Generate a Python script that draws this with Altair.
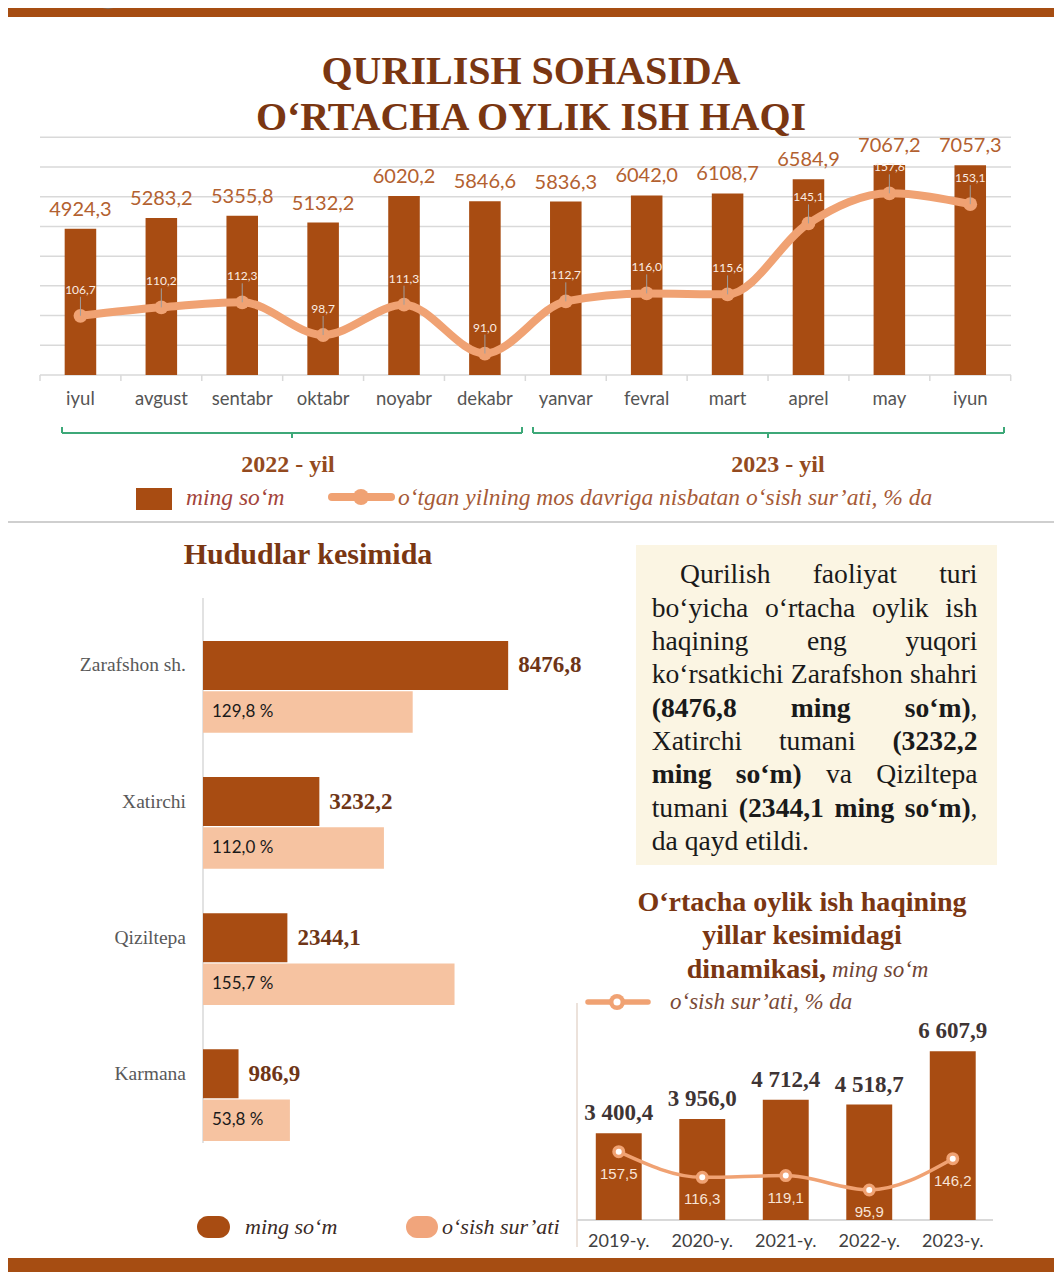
import altair as alt
import pandas as pd

# ---------------- data ----------------
months = ["iyul", "avgust", "sentabr", "oktabr", "noyabr", "dekabr",
          "yanvar", "fevral", "mart", "aprel", "may", "iyun"]
salary = [4924.3, 5283.2, 5355.8, 5132.2, 6020.2, 5846.6,
          5836.3, 6042.0, 6108.7, 6584.9, 7067.2, 7057.3]
growth = [106.7, 110.2, 112.3, 98.7, 111.3, 91.0,
          112.7, 116.0, 115.6, 145.1, 157.6, 153.1]
grid_vals = [0, 1000, 2000, 3000, 4000, 5000, 6000, 7000, 8000]

regions = ["Zarafshon sh.", "Xatirchi", "Qiziltepa", "Karmana"]
region_salary = [8476.8, 3232.2, 2344.1, 986.9]
region_growth = [129.8, 112.0, 155.7, 53.8]

years = ["2019-y.", "2020-y.", "2021-y.", "2022-y.", "2023-y."]
year_salary = [3400.4, 3956.0, 4712.4, 4518.7, 6607.9]
year_growth = [157.5, 116.3, 119.1, 95.9, 146.2]

# ---------------- styles ----------------
BAND = "#A64D12"
BROWN = "#A84C12"
PEACH = "#F0A273"
LIGHT = "#F6C3A1"
TITLE = "#7A3612"
GRID = "#D9D9D9"
SERIF = "Liberation Serif"
SANS = "Lato"
OFF = 8


def X(p):
    return p - OFF


def Y(p):
    return p - OFF


def fmt(v):
    return f"{v:.1f}".replace(".", ",")


def fmt_sp(v):
    return f"{v:,.1f}".replace(",", " ").replace(".", ",")


ONE = pd.DataFrame({"a": [0]})
layers = []


def box(x1, y1, x2, y2, color, radius=0):
    layers.append(alt.Chart(ONE).mark_rect(color=color, cornerRadius=radius).encode(
        x=alt.value(X(x1)), x2=alt.value(X(x2)), y=alt.value(Y(y1)), y2=alt.value(Y(y2))))


def seg(x1, y1, x2, y2, color, w=1.5, cap="butt"):
    layers.append(alt.Chart(ONE).mark_rule(color=color, strokeWidth=w, strokeCap=cap).encode(
        x=alt.value(X(x1)), x2=alt.value(X(x2)), y=alt.value(Y(y1)), y2=alt.value(Y(y2))))


def dot(x, y, r, fill, stroke=None, sw=0):
    kw = dict(fill=fill, opacity=1, size=3.1416 * r * r, filled=True)
    if stroke:
        kw.update(stroke=stroke, strokeWidth=sw)
    layers.append(alt.Chart(ONE).mark_circle(**kw).encode(x=alt.value(X(x)), y=alt.value(Y(y))))


def txt(s, x, y, size, color, font=SERIF, weight="normal", style="normal",
        align="center", baseline="middle"):
    layers.append(alt.Chart(pd.DataFrame({"t": [s]})).mark_text(
        font=font, fontSize=size, color=color, fontWeight=weight, fontStyle=style,
        align=align, baseline=baseline).encode(
        x=alt.value(X(x)), y=alt.value(Y(y)), text="t:N"))


# ---------------- frame ----------------
box(0, 0, 1062, 17, BAND)
dot(108, -26, 38, "#EEF3F5", "#5A8FB0", 1.5)
box(0, 1258, 1062, 1290, BAND)

txt("QURILISH SOHASIDA", 531, 84, 40, TITLE, weight="bold", baseline="alphabetic")
txt("O‘RTACHA OYLIK ISH HAQI", 531, 130, 40, TITLE, weight="bold", baseline="alphabetic")

# ---------------- top chart ----------------
n = len(months)
step = (1010.7 - 40) / n
xs_top = alt.Scale(type="band", domain=months, range=[X(40), X(1010.7)],
                   paddingInner=0.61, paddingOuter=0.305)
ys_top = alt.Scale(domain=[0, 8000], range=[Y(375), Y(137.3)], nice=False, zero=False)
yg_top = alt.Scale(domain=[80, 170], range=[Y(380), Y(163.5)], nice=False, zero=False)

layers.append(alt.Chart(pd.DataFrame({"v": grid_vals})).mark_rule(color=GRID, strokeWidth=1.5).encode(
    y=alt.Y("v:Q", scale=ys_top, axis=None), x=alt.value(X(40)), x2=alt.value(X(1011))))

df_top = pd.DataFrame({"m": months, "s": salary, "g": growth, "i": list(range(n)),
                       "sl": [fmt(v) for v in salary], "gl": [fmt(v) for v in growth]})
base_top = alt.Chart(df_top)
xt = alt.X("m:N", scale=xs_top, axis=None, sort=months)

layers.append(base_top.mark_rule(color=GRID, strokeWidth=1.5, xOffset=-step / 2).encode(
    x=xt, y=alt.value(Y(375)), y2=alt.value(Y(381))))
layers.append(base_top.transform_filter(alt.datum.m == months[-1]).mark_rule(
    color=GRID, strokeWidth=1.5, xOffset=step / 2).encode(
    x=xt, y=alt.value(Y(375)), y2=alt.value(Y(381))))

layers.append(base_top.mark_bar(color=BROWN).encode(x=xt, y=alt.Y("s:Q", scale=ys_top, axis=None)))
layers.append(base_top.mark_text(dy=-19, font=SANS, fontSize=20, color="#B36130").encode(
    x=xt, y=alt.Y("s:Q", scale=ys_top, axis=None), text="sl:N"))

yg = alt.Y("g:Q", scale=yg_top, axis=None)
layers.append(base_top.mark_line(color=PEACH, strokeWidth=8, interpolate="monotone",
                                 strokeCap="round").encode(x=xt, y=yg, order=alt.Order("i:Q")))
layers.append(base_top.mark_circle(color=PEACH, size=190, opacity=1).encode(x=xt, y=yg))
layers.append(base_top.mark_rule(color="#9E9E9E", strokeWidth=1, yOffset=-19).encode(
    x=xt, y=yg, y2=alt.Y2("g:Q")))
layers.append(base_top.mark_text(dy=-26, font=SANS, fontSize=12, color="#FBEDE3").encode(
    x=xt, y=yg, text="gl:N"))

layers.append(base_top.mark_text(font=SANS, fontSize=18.5, color="#555555").encode(
    x=xt, y=alt.value(Y(399)), text="m:N"))

# year brackets
GREEN = "#3DA878"
for a, b, c in [(62, 522, 292), (533, 1004, 768)]:
    seg(a, 433, b, 433, GREEN, 2)
    seg(a, 427, a, 433, GREEN, 2)
    seg(b, 427, b, 433, GREEN, 2)
    seg(c, 433, c, 438, GREEN, 2)
txt("2022 - yil", 288, 465, 24, "#934A20", weight="bold")
txt("2023 - yil", 778, 465, 24, "#934A20", weight="bold")

# legend
box(136, 488, 172, 510, BROWN)
txt("ming so‘m", 186, 498, 23.5, "#A3443A", style="italic", align="left")
seg(332, 497, 391, 497, PEACH, 8, "round")
dot(361, 497, 9, PEACH)
txt("o‘tgan yilning mos davriga nisbatan o‘sish sur’ati, % da", 398, 498, 23.5,
    "#A65A36", style="italic", align="left")

seg(8, 522, 1062, 522, "#BFBFBF", 1.5)

# ---------------- regions chart ----------------
txt("Hududlar kesimida", 308, 555, 30, TITLE, weight="bold")
seg(203, 598, 203, 1143, GRID, 1.5)

ys_reg = alt.Scale(type="band", domain=regions, range=[Y(620.7), Y(1165)],
                   paddingInner=0, paddingOuter=0)
xs_rs = alt.Scale(domain=[0, 10000], range=[X(203), X(203) + 360], nice=False)
xs_rg = alt.Scale(domain=[0, 200], range=[X(203), X(203) + 323.1], nice=False)

df_reg = pd.DataFrame({"r": regions, "s": region_salary, "g": region_growth,
                       "sl": [fmt(v) for v in region_salary],
                       "gl": [fmt(v) + " %" for v in region_growth]})
base_reg = alt.Chart(df_reg)
yr = alt.Y("r:N", scale=ys_reg, axis=None, sort=regions)
DY = 23.25
layers.append(base_reg.mark_bar(color=BROWN, height=49, yOffset=-DY).encode(
    y=yr, x=alt.X("s:Q", scale=xs_rs, axis=None)))
layers.append(base_reg.mark_bar(color=LIGHT, height=41.5, yOffset=DY).encode(
    y=yr, x=alt.X("g:Q", scale=xs_rg, axis=None)))
layers.append(base_reg.mark_text(align="left", dx=10, yOffset=-DY, font=SERIF, fontWeight="bold",
                                 fontSize=23, color="#6E3516").encode(
    y=yr, x=alt.X("s:Q", scale=xs_rs, axis=None), text="sl:N"))
layers.append(base_reg.mark_text(align="left", dx=9, yOffset=DY, font=SANS, fontSize=17,
                                 color="#1A1A1A").encode(
    y=yr, x=alt.XDatum(0, scale=xs_rg, axis=None), text="gl:N"))
layers.append(base_reg.mark_text(align="right", yOffset=-DY, font=SERIF, fontSize=19.5,
                                 color="#595959").encode(
    y=yr, x=alt.value(X(186)), text="r:N"))

box(197, 1216, 230, 1238, BROWN, 11)
txt("ming so‘m", 245, 1227, 22, "#3A2A24", style="italic", align="left")
box(406, 1216, 438, 1238, "#F1A57C", 11)
txt("o‘sish sur’ati", 442, 1227, 22, "#3A2A24", style="italic", align="left")

# ---------------- text box ----------------
box(636, 545, 997, 865, "#FBF5E3")
W_REG = {" ": 250, "(": 333, ")": 333, ",": 250, ".": 250, "‘": 333, "’": 333,
         "Q": 722, "X": 722, "Z": 611,
         "a": 444, "b": 500, "c": 444, "d": 500, "e": 444, "f": 333, "g": 500, "h": 500,
         "i": 278, "j": 278, "k": 500, "l": 278, "m": 778, "n": 500, "o": 500, "p": 500,
         "q": 500, "r": 333, "s": 389, "t": 278, "u": 500, "v": 500, "w": 722, "x": 500,
         "y": 500, "z": 444}
W_BOLD = {" ": 250, "(": 333, ")": 333, ",": 250, ".": 250, "‘": 333, "’": 333,
          "a": 500, "b": 556, "c": 444, "d": 556, "e": 444, "f": 333, "g": 500, "h": 556,
          "i": 278, "k": 556, "l": 278, "m": 833, "n": 556, "o": 500, "r": 444, "s": 389,
          "t": 333, "u": 556}
FS = 27.6


def tw(s, bold):
    tab = W_BOLD if bold else W_REG
    return sum(tab.get(ch, 500) for ch in s) / 1000 * FS


para = [
    [[("Qurilish", 0)], [("faoliyat", 0)], [("turi", 0)]],
    [[("bo‘yicha", 0)], [("o‘rtacha", 0)], [("oylik", 0)], [("ish", 0)]],
    [[("haqining", 0)], [("eng", 0)], [("yuqori", 0)]],
    [[("ko‘rsatkichi", 0)], [("Zarafshon", 0)], [("shahri", 0)]],
    [[("(8476,8", 1)], [("ming", 1)], [("so‘m)", 1), (",", 0)]],
    [[("Xatirchi", 0)], [("tumani", 0)], [("(3232,2", 1)]],
    [[("ming", 1)], [("so‘m)", 1)], [("va", 0)], [("Qiziltepa", 0)]],
    [[("tumani", 0)], [("(2344,1", 1)], [("ming", 1)], [("so‘m)", 1), (",", 0)]],
    [[("da", 0)], [("qayd", 0)], [("etildi.", 0)]],
]
rows = []
for li, words in enumerate(para):
    left = 680 if li == 0 else 651.7
    right = 977.5
    widths = [sum(tw(t, b) for t, b in w) for w in words]
    if li == len(para) - 1:
        gap = 0.25 * FS
    else:
        gap = (right - left - sum(widths)) / (len(words) - 1)
    xx = left
    yy = 583.3 + 33.33 * li
    for w, wd in zip(words, widths):
        sx = xx
        for t, b in w:
            rows.append({"t": t, "x": X(sx), "y": Y(yy), "b": b})
            sx += tw(t, b)
        xx += wd + gap
df_para = pd.DataFrame(rows)
for b in (0, 1):
    layers.append(alt.Chart(df_para[df_para.b == b]).mark_text(
        align="left", baseline="alphabetic", font=SERIF, fontSize=FS, color="#1A1A1A",
        fontWeight="bold" if b else "normal").encode(
        x=alt.X("x:Q", scale=None, axis=None), y=alt.Y("y:Q", scale=None, axis=None), text="t:N"))

# ---------------- yearly chart ----------------
txt("O‘rtacha oylik ish haqining", 802, 903, 28, TITLE, weight="bold")
txt("yillar kesimidagi", 802, 936, 28, TITLE, weight="bold")
txt("dinamikasi,", 826, 970, 28, TITLE, weight="bold", align="right")
txt("ming so‘m", 832, 970, 23, "#704535", style="italic", align="left")

seg(588, 1002, 648, 1002, PEACH, 5.5, "round")
dot(617, 1002, 9, PEACH)
dot(617, 1002, 4, "white")
txt("o‘sish sur’ati, % da", 670, 1002, 23, "#7A4A36", style="italic", align="left")

seg(577, 1003, 577, 1247, "#E6D9CF", 1.5)
seg(577, 1220, 993, 1220, GRID, 2)

xs_yr = alt.Scale(type="band", domain=years, range=[X(577), X(994.5)],
                  paddingInner=0.45, paddingOuter=0.225)
ys_yr = alt.Scale(domain=[0, 8000], range=[Y(1220), Y(1220) - 204.3], nice=False, zero=False)
yg_yr = alt.Scale(domain=[80, 170], range=[Y(1199.9), Y(1143.9)], nice=False, zero=False)

df_yr = pd.DataFrame({"y": years, "s": year_salary, "g": year_growth, "i": list(range(len(years))),
                      "sl": [fmt_sp(v) for v in year_salary], "gl": [fmt(v) for v in year_growth]})
base_yr = alt.Chart(df_yr)
xy = alt.X("y:N", scale=xs_yr, axis=None, sort=years)
layers.append(base_yr.mark_bar(color=BROWN).encode(x=xy, y=alt.Y("s:Q", scale=ys_yr, axis=None)))
layers.append(base_yr.mark_text(dy=-20, font=SERIF, fontWeight="bold", fontSize=23,
                                color="#3E3434").encode(
    x=xy, y=alt.Y("s:Q", scale=ys_yr, axis=None), text="sl:N"))
ygy = alt.Y("g:Q", scale=yg_yr, axis=None)
layers.append(base_yr.mark_line(color=PEACH, strokeWidth=3.5, interpolate="monotone").encode(
    x=xy, y=ygy, order=alt.Order("i:Q")))
layers.append(base_yr.mark_circle(fill="white", stroke=PEACH, strokeWidth=3.5, size=90,
                                  opacity=1).encode(x=xy, y=ygy))
layers.append(base_yr.mark_text(dy=22, font="Liberation Sans Narrow, Liberation Sans",
                                fontSize=15, color="#F9E4D6").encode(x=xy, y=ygy, text="gl:N"))
layers.append(base_yr.mark_text(font=SANS, fontSize=18, color="#404040").encode(
    x=xy, y=alt.value(Y(1242)), text="y:N"))

chart = alt.layer(*layers).resolve_scale(x="independent", y="independent").properties(
    width=1046, height=1264, autosize=alt.AutoSizeParams(type="none"), padding=0,
    background="white").configure_view(stroke=None)

chart.save("out.html", embed_options={"renderer": "svg", "actions": False})
